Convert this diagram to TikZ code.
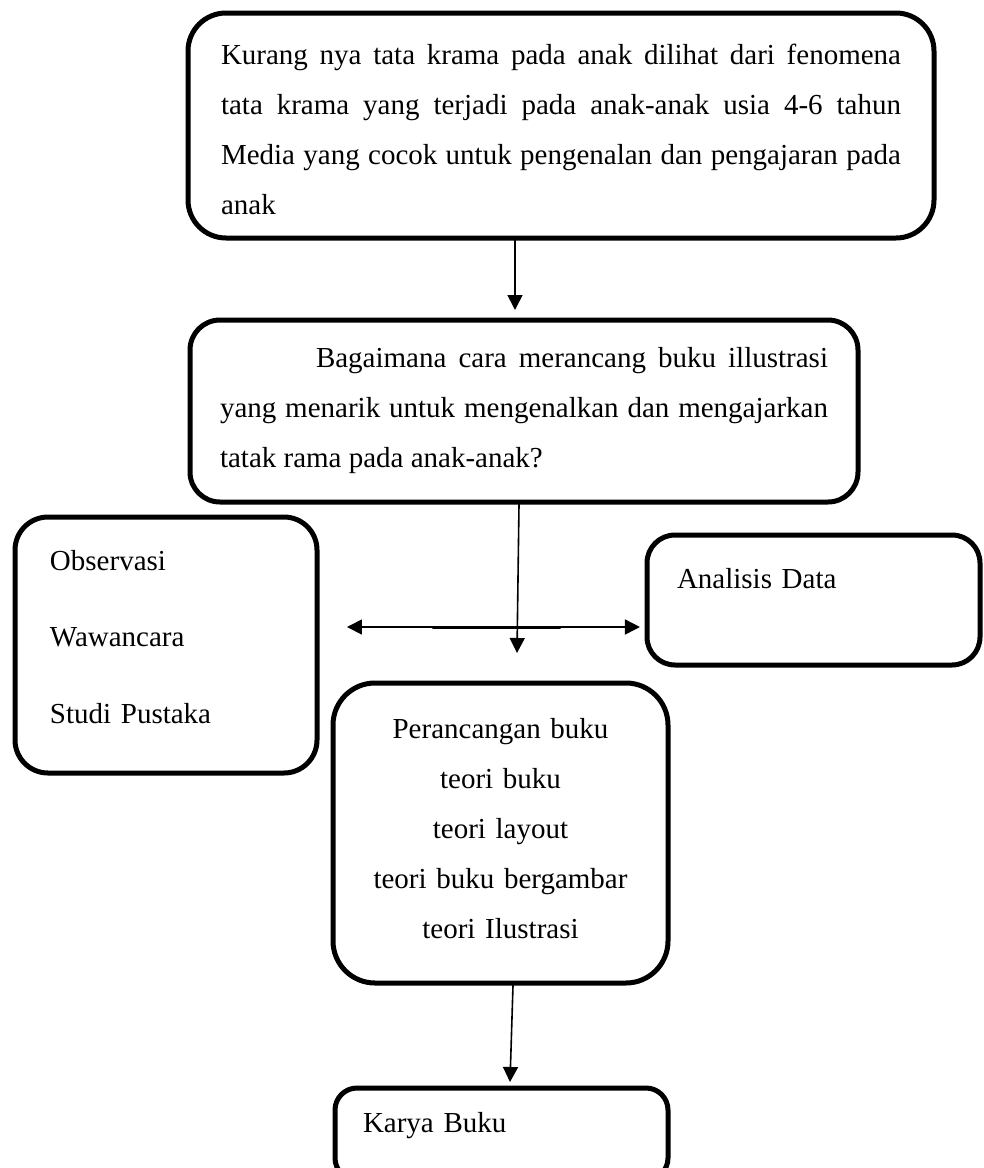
\documentclass[tikz,border=0pt]{standalone}
\usepackage{fontspec}
\setmainfont{Liberation Serif}
\usetikzlibrary{arrows.meta}

\begin{document}
\begin{tikzpicture}[x=0.75pt,y=-0.75pt,line cap=round,line join=round,
    >={Triangle[length=11.25pt,width=11.25pt]},
    kotak/.style={draw,line width=3.75pt,inner sep=0pt,
      font=\fontsize{21.75pt}{37.5pt}\selectfont},
    panah/.style={line width=1.2pt,->}]
  \useasboundingbox (0,0) rectangle (983,1168);

  \node[kotak,rounded corners=28.5pt,minimum width=559.5pt,minimum height=168.75pt,
        text width=510pt,align=justify] (masalah) at (561,125.5)
    {\rule{0pt}{21pt}Kurang nya tata krama pada anak dilihat dari fenomena\linebreak
     tata krama yang terjadi pada anak-anak usia 4-6 tahun\linebreak
     Media yang cocok untuk pengenalan dan pengajaran pada\linebreak
     anak};
  \node[kotak,rounded corners=22.5pt,minimum width=501pt,minimum height=136.5pt,
        text width=456pt,align=justify] (rumusan) at (524,411)
    {\hspace*{72pt}Bagaimana cara merancang buku illustrasi\linebreak
     yang menarik untuk mengenalkan dan mengajarkan\linebreak
     tatak rama pada anak-anak?};
  \node[kotak,rounded corners=24.75pt,minimum width=226.5pt,minimum height=192pt,
        text width=174pt,align=left,font=\fontsize{21.75pt}{57.4pt}\selectfont] (metode) at (166,645)
    {Observasi\\Wawancara\\\rule[-12.75pt]{0pt}{12.75pt}Studi Pustaka};
  \node[kotak,rounded corners=21pt,minimum width=249.75pt,minimum height=97.5pt,
        text width=204.75pt,align=left] (analisis) at (813.5,600)
    {\rule[-33pt]{0pt}{33pt}Analisis Data};
  \node[kotak,rounded corners=31.5pt,minimum width=251.25pt,minimum height=225pt,
        text width=202.5pt,align=center] (rancang) at (500.5,833)
    {Perancangan buku\\teori buku\\teori layout\\teori buku bergambar\\\rule[-7.5pt]{0pt}{7.5pt}teori Ilustrasi};
  \node[kotak,rounded corners=16.5pt,minimum width=249.75pt,minimum height=69pt,
        text width=207.75pt,align=left] (karya) at (501.5,1134)
    {\rule[-18pt]{0pt}{18pt}Karya Buku};

  \coordinate (silang) at (517,627);
  \draw[panah] ([shift={(-46,0)}]masalah.south) -- ([shift={(-9,-7.5)}]rumusan.north);
  \draw[panah] ([shift={(-5,0)}]rumusan.south) -- ([shift={(0,26)}]silang);
  \draw[panah,<->,shorten <=20.6pt,shorten >=3.4pt] (metode.east |- silang) -- (analisis.west |- silang);
  \draw[line width=1.2pt] ([shift={(-84,1.5)}]silang) -- ([shift={(43,1.5)}]silang);
  \draw[panah] ([shift={(12.5,0)}]rancang.south) -- ([shift={(8.5,-3.5)}]karya.north);
\end{tikzpicture}
\end{document}
